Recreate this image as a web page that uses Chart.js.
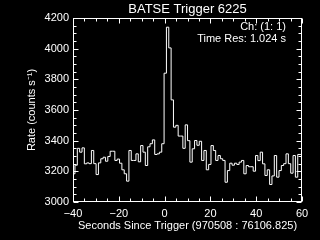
<!DOCTYPE html>
<html>
<head>
<meta charset="utf-8">
<script src="https://cdn.jsdelivr.net/npm/chart.js@4.4.0/dist/chart.umd.min.js"></script>
<style>
  html, body { margin: 0; padding: 0; background: #000; overflow: hidden; }
  canvas { display: block; background: #000; }
</style>
</head>
<body>
<canvas id="lightCurve" width="320" height="240"></canvas>
<script>
// BATSE trigger 6225, channel 1, 1.024 s bins
const binStart = -40.16;   // left edge of first bin (s)
const binWidth = 1.024;    // Time Res
const rates = [
    3184, 3240, 3350, 3325, 3353, 3249, 3255, 3250, 3336, 3250,
    3179, 3255, 3282, 3292, 3266, 3297, 3331, 3331, 3271, 3280,
    3253, 3210, 3184, 3136, 3336, 3271, 3271, 3314, 3262, 3368,
    3325, 3238, 3360, 3380, 3405, 3310, 3314, 3325, 3380, 3840,
    4140, 4005, 3666, 3488, 3500, 3430, 3430, 3350, 3503, 3400,
    3260, 3347, 3401, 3370, 3396, 3271, 3336, 3210, 3245, 3368,
    3336, 3271, 3303, 3282, 3271, 3129, 3205, 3253, 3240, 3253,
    3245, 3260, 3271, 3184, 3238, 3230, 3230, 3201, 3303, 3270,
    3325, 3249, 3173, 3210, 3114, 3170, 3303, 3162, 3205, 3238,
    3250, 3314, 3250, 3188, 3303, 3162, 3310, 3310
];
const xTickValues = [-40, -20, 0, 20, 40, 60];
const yTickValues = [3000, 3200, 3400, 3600, 3800, 4000, 4200];
const xMinorStep = 5;
const yMinorStep = 50;

const titleText = 'BATSE Trigger 6225';
const infoLines = ['Ch: (1: 1)', 'Time Res: 1.024 s'];

const FONT = "'Liberation Sans', Arial, sans-serif";

// stepped line: one point per bin edge, plus the closing edge
const points = rates.map((r, i) => ({ x: binStart + i * binWidth, y: r }));
points.push({ x: binStart + rates.length * binWidth, y: rates[rates.length - 1] });

const frame = {
    id: 'idlFrame',
    afterDraw(chart) {
        const ctx = chart.ctx;
        const a = chart.chartArea;
        const xs = chart.scales.x, ys = chart.scales.y;
        const L = Math.round(a.left) + 0.5, R = Math.round(a.right) - 0.5;
        const T = Math.round(a.top) + 0.5, B = Math.round(a.bottom) - 0.5;
        ctx.save();
        ctx.strokeStyle = '#fff';
        ctx.lineWidth = 1;
        ctx.strokeRect(L, T, R - L, B - T);

        ctx.beginPath();
        for (let v = xs.min; v <= xs.max; v += xMinorStep) {
            const px = Math.round(xs.getPixelForValue(v)) + 0.5;
            const len = v % 20 === 0 ? 5 : 3;
            ctx.moveTo(px, B); ctx.lineTo(px, B - len);
            ctx.moveTo(px, T); ctx.lineTo(px, T + len);
        }
        for (let v = ys.min; v <= ys.max; v += yMinorStep) {
            const py = Math.round(ys.getPixelForValue(v)) + 0.5;
            const len = v % 200 === 0 ? 5 : 3;
            ctx.moveTo(L, py); ctx.lineTo(L + len, py);
            ctx.moveTo(R, py); ctx.lineTo(R - len, py);
        }
        ctx.stroke();

        ctx.fillStyle = '#fff';
        ctx.textBaseline = 'middle';
        ctx.textAlign = 'center';
        ctx.font = '13px ' + FONT;
        ctx.fillText(titleText, (a.left + a.right) / 2, 9);

        ctx.textAlign = 'right';
        ctx.font = '11px ' + FONT;
        ctx.fillText(infoLines[0], 286, 27);
        ctx.fillText(infoLines[1], 286, 39);
        ctx.restore();
    }
};

new Chart(document.getElementById('lightCurve'), {
    type: 'line',
    data: {
        datasets: [{
            data: points,
            stepped: 'before',
            borderColor: '#fff',
            borderWidth: 1,
            pointRadius: 0,
            fill: false
        }]
    },
    options: {
        responsive: false,
        animation: false,
        devicePixelRatio: 1,
        layout: { padding: { top: 18, right: 18, left: 0, bottom: 0 } },
        plugins: {
            legend: { display: false },
            tooltip: { enabled: false },
            title: { display: false }
        },
        scales: {
            x: {
                type: 'linear',
                min: -40,
                max: 60,
                afterBuildTicks: s => { s.ticks = xTickValues.map(v => ({ value: v })); },
                afterFit: s => { s.height = 38; },
                grid: { display: false, drawTicks: false },
                border: { display: false },
                ticks: {
                    color: '#fff',
                    font: { family: FONT, size: 11 },
                    padding: 5,
                    maxRotation: 0,
                    callback: v => v < 0 ? '\u2212' + Math.abs(v) : String(v)
                },
                title: {
                    display: true,
                    text: 'Seconds Since Trigger (970508 : 76106.825)',
                    color: '#fff',
                    font: { family: FONT, size: 11 },
                    padding: { top: 0, bottom: 7 }
                }
            },
            y: {
                type: 'linear',
                min: 3000,
                max: 4200,
                afterBuildTicks: s => { s.ticks = yTickValues.map(v => ({ value: v })); },
                afterFit: s => { s.width = 73; },
                grid: { display: false, drawTicks: false },
                border: { display: false },
                ticks: {
                    color: '#fff',
                    font: { family: FONT, size: 11 },
                    padding: 4,
                    callback: v => String(v)
                },
                title: {
                    display: true,
                    text: 'Rate (counts s\u207B\u00B9)',
                    color: '#fff',
                    font: { family: FONT, size: 11 },
                    padding: { top: 25, bottom: 0 }
                }
            }
        }
    },
    plugins: [frame]
});
</script>
</body>
</html>
